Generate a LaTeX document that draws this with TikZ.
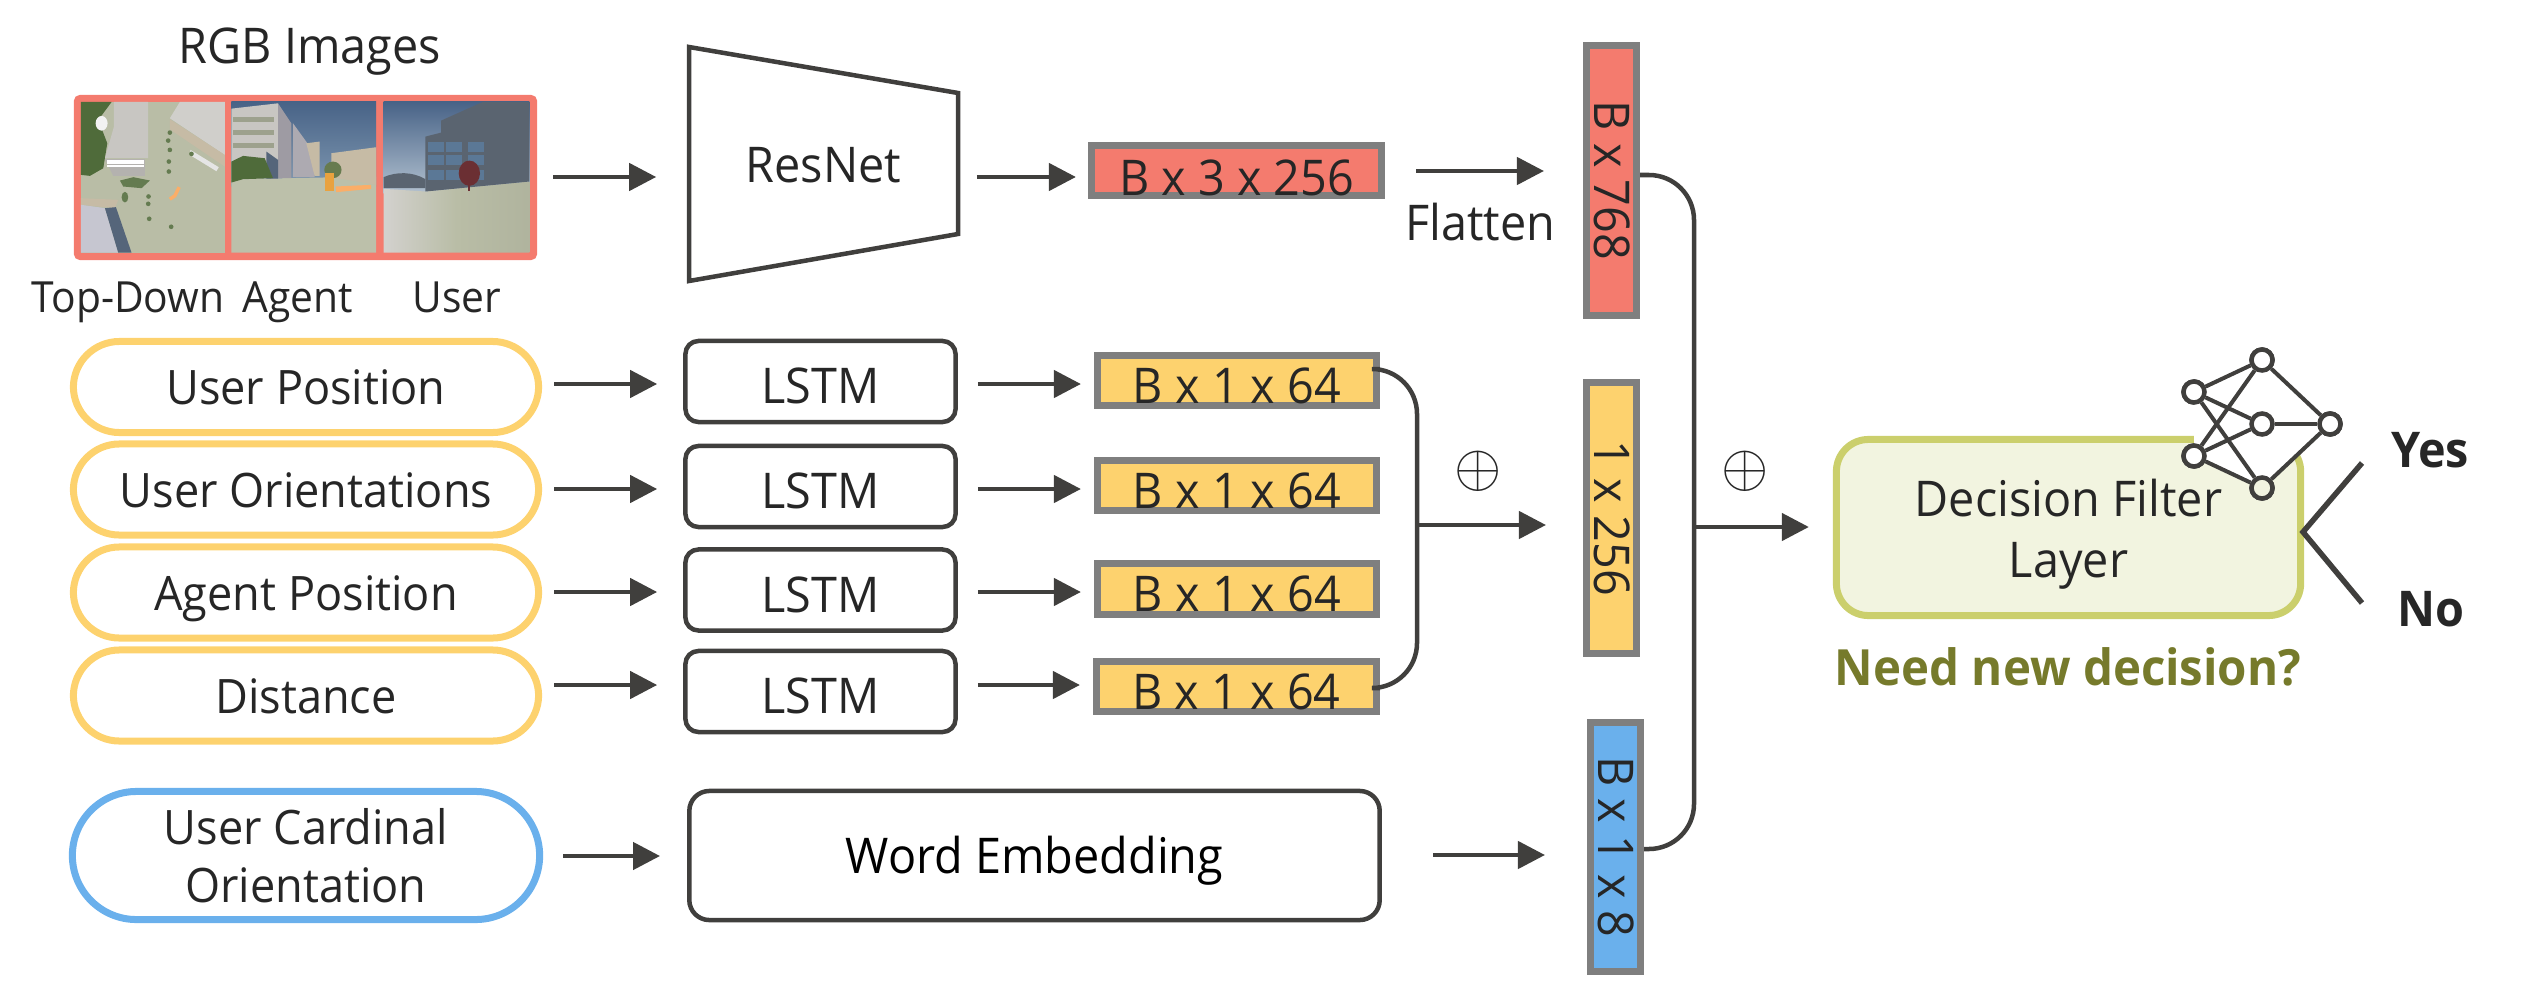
\documentclass[tikz,border=0pt]{standalone}
\usepackage{fontspec}
\setmainfont{Open Sans}[FakeStretch=0.95]
\newfontfamily\boldfont{Open Sans}[FakeStretch=0.95,UprightFont=* Bold]
\usetikzlibrary{arrows.meta,shapes.geometric}
\definecolor{flowgray}{HTML}{403F3D}
\definecolor{framegray}{HTML}{7F7F7F}
\definecolor{labelgray}{HTML}{262626}
\definecolor{salmon}{HTML}{F47B6E}
\definecolor{sunny}{HTML}{FDD26E}
\definecolor{skyblue}{HTML}{6AB0EC}
\definecolor{filterline}{HTML}{CBCF6C}
\definecolor{filterfill}{HTML}{F2F4E0}
\definecolor{needolive}{HTML}{767A2B}
\definecolor{ground}{HTML}{B9BDA6}
\definecolor{concrete}{HTML}{C8C6C2}
\definecolor{sand}{HTML}{C6BBA5}
\definecolor{shrub}{HTML}{4F6B3A}
\definecolor{skytop}{HTML}{486387}
\definecolor{skylow}{HTML}{7E97B0}
\definecolor{slate}{HTML}{5A6470}
\definecolor{pane}{HTML}{5B7896}
\definecolor{lilac}{HTML}{C6C6D0}
\definecolor{walkway}{HTML}{55657A}
\definecolor{shadewall}{HTML}{9E9BA3}
\definecolor{trail}{HTML}{FBAE68}
\definecolor{pillar}{HTML}{E9A23F}
\definecolor{bark}{HTML}{6B2F33}
\begin{document}
\begin{tikzpicture}[x=0.01cm, y=-0.01cm]
  \useasboundingbox (0, 0) rectangle (2525, 985);
  \tikzstyle{txt}=[text=labelgray, font=\fontsize{14}{16.5}\selectfont, inner sep=0pt]
  \tikzstyle{small}=[text=labelgray, font=\fontsize{12.2}{14}\selectfont, inner sep=0pt, anchor=base]
  \tikzstyle{pill}=[txt, font=\fontsize{13.5}{16.5}\selectfont, draw, line width=.07cm, rounded corners=.46cm, minimum width=4.65cm, minimum height=.91cm, text height=.35cm, text depth=0pt]
  \tikzstyle{lstmbox}=[txt, draw=flowgray, line width=.045cm, rounded corners=.13cm, minimum width=2.70cm, minimum height=.81cm, text height=.44cm, text depth=0pt]
  \tikzstyle{dimbox}=[txt, draw=framegray, line width=.07cm, minimum width=2.73cm, minimum height=.50cm, text height=.45cm, text depth=0pt]
  \tikzstyle{tallbox}=[txt, draw=framegray, line width=.07cm, rotate=-90, minimum height=.50cm, text height=.35cm, text depth=0pt]
  \tikzstyle{flow}=[draw=flowgray, line width=.045cm, -{Triangle[length=.27cm, width=.27cm]}]
  \tikzstyle{merge}=[draw=flowgray, line width=.045cm, rounded corners=.45cm]
  \tikzstyle{neuron}=[circle, draw=flowgray, line width=.045cm, minimum size=.21cm, inner sep=0pt, fill=white]
  \tikzstyle{wire}=[draw=flowgray, line width=.04cm]
  \tikzstyle{answer}=[draw=flowgray, line width=.055cm]
  \tikzstyle{plus}=[text=labelgray, font=\fontsize{18}{20}\selectfont, inner sep=0pt]

  % RGB frame and its three views
  \node[draw=salmon, line width=.07cm, rounded corners=.03cm, minimum width=4.56cm, minimum height=1.58cm, fill=salmon] (views) at (305.5, 177.5) {};
  \begin{scope}[shift={(70, 90)}, x=0.00333cm, y=-0.00333cm]
    % Top-Down
    \fill[ground] (33, 36) rectangle (465, 489);
    \fill[shrub] (33, 36) -- (125, 36) -- (85, 90) -- (112, 160) -- (100, 235) -- (60, 258) -- (33, 255) -- cycle;
    \fill[white!90!gray] (95, 100) ellipse (18 and 22);
    \fill[concrete] (132, 36) -- (235, 36) -- (235, 205) -- (105, 205) -- (132, 110) -- cycle;
    \fill[concrete!90!black] (105, 208) -- (225, 208) -- (225, 258) -- (130, 258) -- cycle;
    \foreach \y in {213, 220, 227} \draw[white, line width=.02cm] (112, \y) -- (222, \y);
    \fill[concrete!85!white] (300, 85) -- (330, 36) -- (465, 36) -- (465, 195) -- cycle;
    \fill[sand] (300, 88) -- (465, 195) -- (465, 230) -- (300, 118) -- cycle;
    \fill[white!80!gray] (362, 180) -- (447, 232) -- (440, 244) -- (360, 195) -- cycle;
    \fill[sand] (33, 325) -- (145, 330) -- (135, 355) -- (33, 345) -- cycle;
    \fill[lilac] (33, 345) -- (105, 355) -- (145, 489) -- (33, 489) -- cycle;
    \fill[walkway] (105, 355) -- (138, 352) -- (185, 489) -- (145, 489) -- cycle;
    \fill[shrub!80!ground] (150, 272) -- (190, 262) -- (240, 272) -- (215, 295) -- (160, 290) -- cycle;
    \fill[shrub!80!ground] (165, 322) circle (10 and 16);
    \foreach \px/\py in {300/128, 295/152, 300/180, 297/215, 297/245, 365/192, 236/320, 235/342, 238/387, 304/411} \fill[shrub!80!ground] (\px, \py) circle (7);
    \draw[trail, line width=.035cm] (328, 292) -- (315, 318) -- (300, 328);
    % Agent
    \shade[top color=skytop, bottom color=skylow] (485, 36) rectangle (920, 290);
    \fill[ground!95!white] (485, 268) -- (920, 260) -- (920, 489) -- (485, 489) -- cycle;
    \fill[concrete] (485, 56) -- (625, 40) -- (625, 265) -- (485, 270) -- cycle;
    \fill[shadewall] (625, 40) -- (665, 100) -- (665, 265) -- (625, 265) -- cycle;
    \fill[shadewall!85!white] (670, 100) -- (735, 190) -- (735, 262) -- (670, 262) -- cycle;
    \fill[sand] (710, 160) -- (750, 155) -- (750, 258) -- (735, 258) -- cycle;
    \fill[sand] (785, 190) -- (920, 172) -- (920, 285) -- (785, 262) -- cycle;
    \fill[walkway] (590, 185) -- (625, 210) -- (625, 266) -- (590, 266) -- cycle;
    \foreach \y in {82, 120, 158} \fill[ground!85!black] (490, \y) rectangle (612, \y + 15);
    \fill[shrub] (485, 215) -- (520, 198) -- (585, 205) -- (610, 265) -- (520, 268) -- (485, 278) -- cycle;
    \fill[shrub!80!sand] (790, 240) ellipse (26 and 25);
    \fill[pillar] (766, 250) rectangle (792, 302);
    \fill[trail] (798, 290) -- (905, 285) -- (905, 297) -- (800, 307) -- cycle;
    % User
    \shade[top color=skytop, bottom color=skylow!60!white] (942, 36) rectangle (1380, 310);
    \fill[slate] (942, 262) .. controls (980, 245) and (1030, 245) .. (1068, 268) -- (1068, 295) -- (942, 295) -- cycle;
    \shade[left color=concrete!80!white, right color=ground!95!black, middle color=ground] (942, 297) -- (1068, 305) -- (1380, 275) -- (1380, 489) -- (942, 489) -- cycle;
    \fill[slate] (1115, 92) -- (1240, 36) -- (1380, 36) -- (1380, 275) -- (1068, 305) -- (1068, 140) -- (1115, 128) -- cycle;
    \foreach \wx in {1075, 1130, 1195} \foreach \wy in {165, 205, 250} \fill[pane] (\wx, \wy - 10) rectangle (\wx + 48, \wy + 20);
    \fill[bark] (1200, 250) ellipse (32 and 38);
    \draw[bark, line width=.02cm] (1200, 250) -- (1200, 302);
  \end{scope}
  \node[txt, anchor=base] (rgb) at (310, 64) {RGB Images};
  \node[small] (topdown) at (128, 312) {Top-Down};
  \node[small] (agent) at (298, 312) {Agent};
  \node[small] (user) at (457, 312) {User};

  % ResNet branch
  \node[txt, minimum width=2.71cm, minimum height=1.41cm, text height=.35cm, text depth=0pt] (resnet) at (823.5, 164.5) {ResNet};
  \draw[flowgray, line width=.045cm, line join=miter] (689, 47) -- (958, 93) -- (958, 234) -- (689, 281) -- cycle;
  \node[dimbox, fill=salmon, minimum width=2.90cm, text height=.49cm] (feat) at (1236.5, 170.5) {B x 3 x 256};
  \node[tallbox, fill=salmon, minimum width=2.70cm] (tall) at (1611.5, 180.5) {B x 768};
  \node[txt, anchor=base] (flatten) at (1480, 241) {Flatten};
  \path (views.east |- 0,177) edge[flow, shorten <=.16cm, shorten >=.31cm] (resnet.west |- 0,177);
  \path (resnet.east |- 0,177) edge[flow, shorten <=.17cm, shorten >=.12cm] (feat.west |- 0,177);
  \path (feat.east |- 0,171) edge[flow, shorten <=.31cm, shorten >=.39cm] (tall.south |- 0,171);

  % state inputs
  \node[pill, draw=sunny] (userpos) at (306, 387) {User Position};
  \node[pill, draw=sunny] (userori) at (306, 489.5) {User Orientations};
  \node[pill, draw=sunny] (agentpos) at (306, 592.5) {Agent Position};
  \node[pill, draw=sunny] (dist) at (306, 695.5) {Distance};
  \node[lstmbox] (lstma) at (820.5, 381.5) {LSTM};
  \node[lstmbox] (lstmb) at (820.5, 486.5) {LSTM};
  \node[lstmbox] (lstmc) at (820.5, 590) {LSTM};
  \node[lstmbox] (lstmd) at (820.5, 691.5) {LSTM};
  \node[dimbox, fill=sunny, minimum width=2.79cm] (dima) at (1237, 380.5) {B x 1 x 64};
  \node[dimbox, fill=sunny, minimum width=2.79cm] (dimb) at (1237, 485.5) {B x 1 x 64};
  \node[dimbox, fill=sunny, minimum width=2.79cm, minimum height=.51cm] (dimc) at (1237, 589) {B x 1 x 64};
  \node[dimbox, fill=sunny, minimum width=2.80cm] (dimd) at (1236.5, 686.5) {B x 1 x 64};
  \node[tallbox, fill=sunny, minimum width=2.71cm] (state) at (1611.5, 518) {1 x 256};

  \path (userpos.east |- 0,384) edge[flow, shorten <=.12cm, shorten >=.26cm] (lstma.west |- 0,384);
  \path (userori.east |- 0,489) edge[flow, shorten <=.12cm, shorten >=.26cm] (lstmb.west |- 0,489);
  \path (agentpos.east |- 0,592) edge[flow, shorten <=.12cm, shorten >=.26cm] (lstmc.west |- 0,592);
  \path (dist.east |- 0,685) edge[flow, shorten <=.12cm, shorten >=.26cm] (lstmd.west |- 0,685);
  \path (lstma.east |- 0,384) edge[flow, shorten <=.20cm, shorten >=.13cm] (dima.west |- 0,384);
  \path (lstmb.east |- 0,489) edge[flow, shorten <=.20cm, shorten >=.13cm] (dimb.west |- 0,489);
  \path (lstmc.east |- 0,592) edge[flow, shorten <=.20cm, shorten >=.13cm] (dimc.west |- 0,592);
  \path (lstmd.east |- 0,685) edge[flow, shorten <=.20cm, shorten >=.13cm] (dimd.west |- 0,685);

  \coordinate (joina) at (1417, 525);
  \draw[merge] (dima.east |- 0,369) -| (joina) |- (dimd.east |- 0,688);
  \path (joina) edge[flow, shorten >=.37cm] (state.south |- joina);
  \node[plus] (plusa) at (1478, 471) {$\oplus$};

  % cardinal orientation
  \node[txt, draw=skyblue, line width=.07cm, font=\fontsize{13.5}{16.5}\selectfont, rounded corners=.64cm, minimum width=4.67cm, minimum height=1.28cm, align=center] (cardinal) at (306, 855.5) {User Cardinal\\Orientation};
  \node[lstmbox, text=black, text height=.35cm, rounded corners=.20cm, minimum width=6.90cm, minimum height=1.29cm] (embed) at (1034.5, 855.5) {Word Embedding};
  \node[tallbox, fill=skyblue, minimum width=2.49cm] (card) at (1615.5, 847) {B x 1 x 8};
  \path (cardinal.east |- 0,856) edge[flow, shorten <=.20cm, shorten >=.27cm] (embed.west |- 0,856);
  \path (embed.east |- 0,855) edge[flow, shorten <=.51cm, shorten >=.42cm] (card.south |- 0,855);

  % second merge and decision filter
  \coordinate (joinb) at (1694, 527);
  \draw[merge] (tall.north |- 0,175) -| (joinb) |- (card.north |- 0,849);
  \node[plus] (plusb) at (1745, 471) {$\oplus$};
  \node[txt, font=\fontsize{14}{17.3}\selectfont, draw=filterline, fill=filterfill, line width=.07cm, rounded corners=.32cm, minimum width=4.64cm, minimum height=1.76cm, align=center] (filter) at (2068.5, 527.5) {\rule{0pt}{.5cm}Decision Filter\\Layer};
  \path (joinb) edge[flow, shorten >=.24cm] (filter.west |- joinb);

  % small network on the corner of the filter
  \node[neuron] (nettop) at (2262, 360) {};
  \node[neuron] (netlefta) at (2194, 392) {};
  \node[neuron] (netleftb) at (2194, 456) {};
  \node[neuron] (netmid) at (2262, 424) {};
  \node[neuron] (netbot) at (2262, 488) {};
  \node[neuron] (netright) at (2330, 424) {};
  \fill[white] (netlefta.center) -- (nettop.center) -- (netright.center) -- (netbot.center) -- (netleftb.center) -- cycle;
  \path[wire] (netlefta) edge (nettop) (netlefta) edge (netmid) (netlefta) edge (netbot);
  \path[wire] (netleftb) edge (nettop) (netleftb) edge (netmid) (netleftb) edge (netbot);
  \path[wire] (nettop) edge (netright) (netmid) edge (netright) (netbot) edge (netright);
  \node[neuron] at (nettop) {};
  \node[neuron] at (netlefta) {};
  \node[neuron] at (netleftb) {};
  \node[neuron] at (netmid) {};
  \node[neuron, fill=filterfill] at (netbot) {};
  \node[neuron] at (netright) {};

  \coordinate (fork) at (2303, 532);
  \coordinate (yestip) at (2362, 463);
  \coordinate (notip) at (2362, 603);
  \draw[answer] (yestip) -- (fork) -- (notip);
  \node[txt, font=\boldfont\fontsize{14}{17}\selectfont, anchor=base] (yes) at (2430, 467) {Yes};
  \node[txt, font=\boldfont\fontsize{14}{17}\selectfont, anchor=base] (no) at (2431, 626) {No};
  \node[txt, text=needolive, font=\boldfont\fontsize{14.2}{17}\selectfont, anchor=base] (need) at (2068, 685) {Need new decision?};
\end{tikzpicture}
\end{document}
